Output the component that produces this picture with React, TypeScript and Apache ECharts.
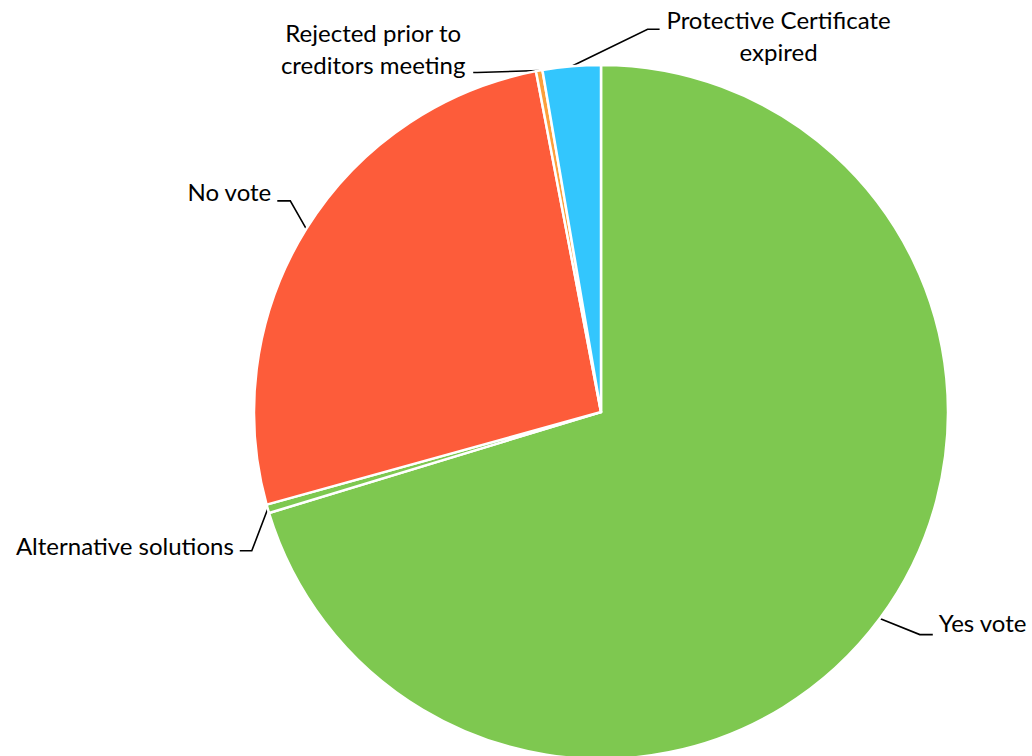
import { useEffect, useRef } from "react";
import * as echarts from "echarts";

const categories: string[] = [
  "Yes vote",
  "Alternative solutions",
  "No vote",
  "Rejected prior to\ncreditors meeting",
  "Protective Certificate\nexpired",
];
const shares: number[] = [70.3, 0.4, 26.3, 0.3, 2.7];
const sliceColors: string[] = ["#7ec850", "#7ec850", "#fd5c3a", "#fca03c", "#33c6fd"];

// leader line: [dx1, dy1, dx2] from slice edge
const leaderSteps: number[][] = [
  [40, 16, 13],
  [-16, 42, -12],
  [-16, -28, -13],
  [-62, 2, -4],
  [76, -37, 12],
];
// label anchor: align, [gapX, dy], half block width for centred blocks
const labelSide: string[] = ["left", "right", "right", "centerLeft", "centerRight"];
const labelShift: number[][] = [
  [6, -12],
  [-6, -5],
  [-6, -9],
  [-5, -24],
  [6, 6],
];
const labelHalfWidth: number[] = [0, 0, 0, 95, 113];

export default function App() {
  const ref = useRef<HTMLDivElement>(null);
  useEffect(() => {
    document.body.style.margin = "0";
    if (!ref.current) return;
    const chart = echarts.init(ref.current, undefined, { renderer: "svg" });
    chart.setOption({
      animation: false,
      backgroundColor: "#ffffff",
      series: [
        {
          type: "pie",
          center: [601, 412],
          radius: 347,
          startAngle: 90,
          clockwise: true,
          avoidLabelOverlap: false,
          data: categories.map((name, i) => ({
            name,
            value: shares[i],
            itemStyle: { color: sliceColors[i] },
          })),
          itemStyle: { borderColor: "#ffffff", borderWidth: 2.5 },
          label: {
            show: true,
            position: "outside",
            formatter: "{b}",
            color: "#000000",
            fontFamily: "Lato",
            fontSize: 24,
            lineHeight: 32,
            overflow: "none",
          },
          labelLine: {
            show: true,
            length: 20,
            length2: 15,
            smooth: false,
            lineStyle: { color: "#000000", width: 1.6 },
          },
          labelLayout: (params: any) => {
            const i = params.dataIndex;
            const pts = params.labelLinePoints;
            if (!pts) return {};
            const p0 = pts[0];
            const s = leaderSteps[i];
            const p1 = [p0[0] + s[0], p0[1] + s[1]];
            const p2 = [p1[0] + s[2], p1[1]];
            const side = labelSide[i];
            const sh = labelShift[i];
            const hw = labelHalfWidth[i];
            let x = p2[0] + sh[0];
            let align = side;
            if (side === "centerLeft") {
              x = p2[0] + sh[0] - hw;
              align = "center";
            } else if (side === "centerRight") {
              x = p2[0] + sh[0] + hw;
              align = "center";
            }
            return {
              x,
              y: p2[1] + sh[1],
              align,
              verticalAlign: "middle",
              labelLinePoints: [p0, p1, p2],
            };
          },
        },
      ],
    });
    return () => chart.dispose();
  }, []);
  return <div ref={ref} style={{ width: 1032, height: 756 }} />;
}
